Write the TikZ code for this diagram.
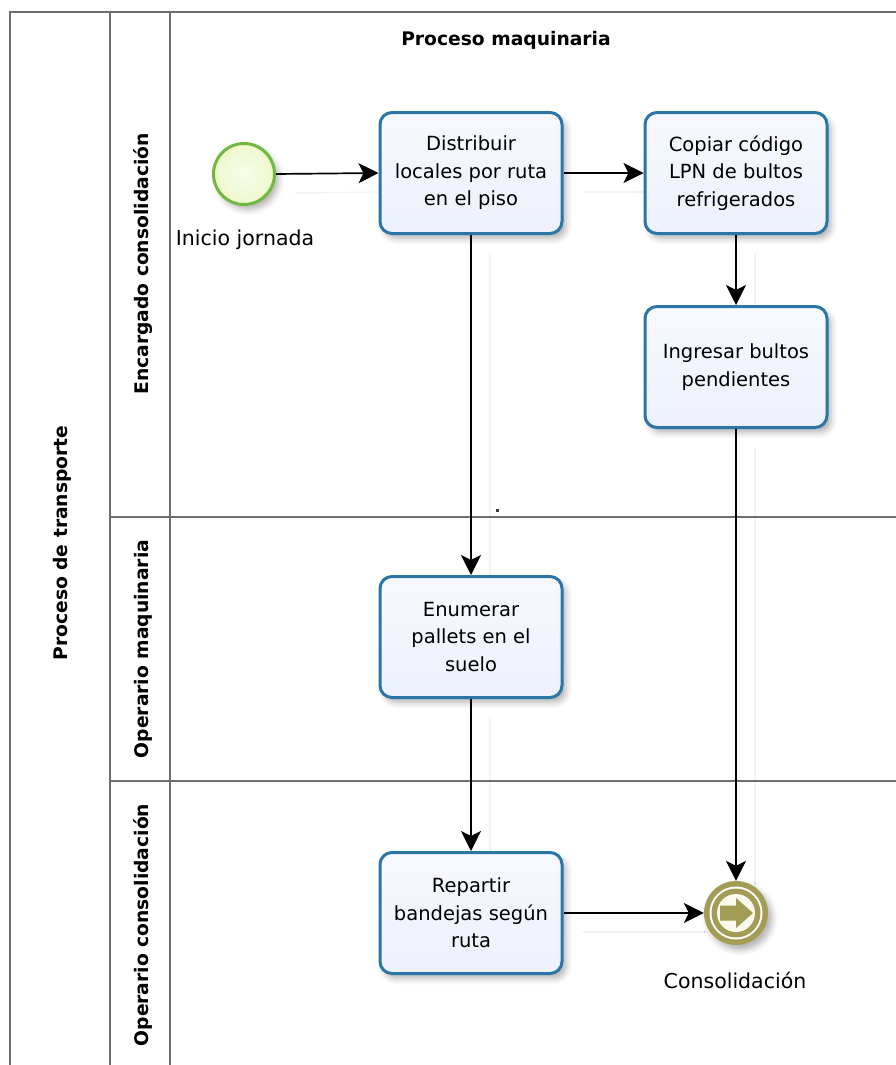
\documentclass[tikz,border=0pt]{standalone}
\usepackage{fontspec}
\setmainfont{DejaVu Sans}
\usetikzlibrary{arrows.meta,shadows.blur,calc}

\definecolor{laneline}{HTML}{6E6E6E}
\definecolor{taskborder}{HTML}{2B76A6}
\definecolor{taskfill}{HTML}{EDF1FC}
\definecolor{startborder}{HTML}{72B83E}
\definecolor{startfill}{HTML}{EEF8CC}
\definecolor{endcol}{HTML}{A39C55}
\definecolor{endfill}{HTML}{FBF9EE}
\definecolor{flowshade}{HTML}{F3F3F3}

\pgfdeclarelayer{background}
\pgfsetlayers{background,main}

\tikzset{
  lane/.style={draw=laneline, line width=1.7pt},
  lanelabel/.style={font=\bfseries\fontsize{18.7}{22}\selectfont, rotate=90, inner sep=0pt},
  softshadow/.style={blur shadow={shadow xshift=4pt, shadow yshift=-5pt,
      shadow blur radius=6pt, shadow opacity=30}},
  task/.style={rectangle, rounded corners=12pt, draw=taskborder, line width=3pt,
      top color=white!55!taskfill, bottom color=taskfill,
      minimum width=182pt, minimum height=121pt, align=center, inner sep=2pt,
      font=\fontsize{19.5}{27.5}\selectfont, softshadow},
  startev/.style={circle, draw=startborder, line width=3pt, minimum size=61pt,
      inner sep=0pt, inner color=white!60!startfill, outer color=startfill, softshadow},
  endev/.style={circle, fill=endcol, minimum size=64pt, inner sep=0pt, softshadow},
  evlabel/.style={font=\fontsize{20.5}{24}\selectfont, inner sep=0pt},
  flow/.style={draw=black, line width=1.7pt,
      -{Stealth[length=20pt, width=20pt, inset=5pt]}},
  flowshadow/.style={draw=flowshade, line width=1.5pt,
      transform canvas={xshift=19pt, yshift=-19pt}},
}

\begin{document}
\begin{tikzpicture}[x=1pt, y=-1pt]
  \useasboundingbox (0,0) rectangle (896,1065);

  % pool and lane frame
  \draw[lane] (10,1065) -- (10,12) -- (896,12);
  \draw[lane] (110,12) -- (110,1065);
  \draw[lane] (170,12) -- (170,1065);
  \draw[lane] (110,517) -- (896,517);
  \draw[lane] (110,781) -- (896,781);

  % pool and lane titles
  \node[lanelabel] (pool) at (62,543) {Proceso de transporte};
  \node[lanelabel] (laneA) at (143,264) {Encargado consolidación};
  \node[lanelabel] (laneB) at (143,649) {Operario maquinaria};
  \node[lanelabel] (laneC) at (143,925) {Operario consolidación};
  \node[font=\bfseries\fontsize{18.7}{22}\selectfont, inner sep=0pt] (title) at (506,40) {Proceso maquinaria};

  % stray mark near the lane border
  \fill[black!75] (496,509) rectangle (499,512);

  % events
  \node[startev] (start) at (244,174) {};
  \node[evlabel] (startlbl) at (245,240) {Inicio jornada};

  \node[endev] (end) at (736,913) {};
  \begin{scope}[shift={(end.center)}]
    \fill[white] (0,0) circle (26.5);
    \fill[endcol] (0,0) circle (24.5);
    \fill[endfill] (0,0) circle (19);
    \fill[endcol] (-16,-7.5) -- (0,-7.5) -- (0,-15) -- (17,0) -- (0,15) -- (0,7.5) -- (-16,7.5) -- cycle;
  \end{scope}
  \node[evlabel] (endlbl) at (735,980) {Consolidación};

  % activities
  \node[task] (distribuir) at (471,173) {Distribuir\\locales por ruta\\en el piso};
  \node[task] (copiar) at (736,173) {Copiar código\\LPN de bultos\\refrigerados};
  \node[task] (ingresar) at (736,367) {Ingresar bultos\\pendientes};
  \node[task] (enumerar) at (471,637) {Enumerar\\pallets en el\\suelo};
  \node[task] (repartir) at (471,913) {Repartir\\bandejas según\\ruta};

  % faint connector shadows, kept behind everything
  \begin{pgfonlayer}{background}
    \draw[flowshadow] (start.east) -- (distribuir.west);
    \draw[flowshadow] (distribuir.east) -- (copiar.west);
    \draw[flowshadow] (copiar.south) -- (ingresar.north);
    \draw[flowshadow] (distribuir.south) -- (enumerar.north);
    \draw[flowshadow] (enumerar.south) -- (repartir.north);
    \draw[flowshadow] (repartir.east) -- (end.west);
    \draw[flowshadow] (ingresar.south) -- (end.north);
  \end{pgfonlayer}

  % sequence flows
  \draw[flow] (start.east) -- (distribuir.west);
  \draw[flow] (distribuir.east) -- (copiar.west);
  \draw[flow] (copiar.south) -- (ingresar.north);
  \draw[flow] (distribuir.south) -- (enumerar.north);
  \draw[flow] (enumerar.south) -- (repartir.north);
  \draw[flow] (repartir.east) -- (end.west);
  \draw[flow] (ingresar.south) -- (end.north);
\end{tikzpicture}
\end{document}
